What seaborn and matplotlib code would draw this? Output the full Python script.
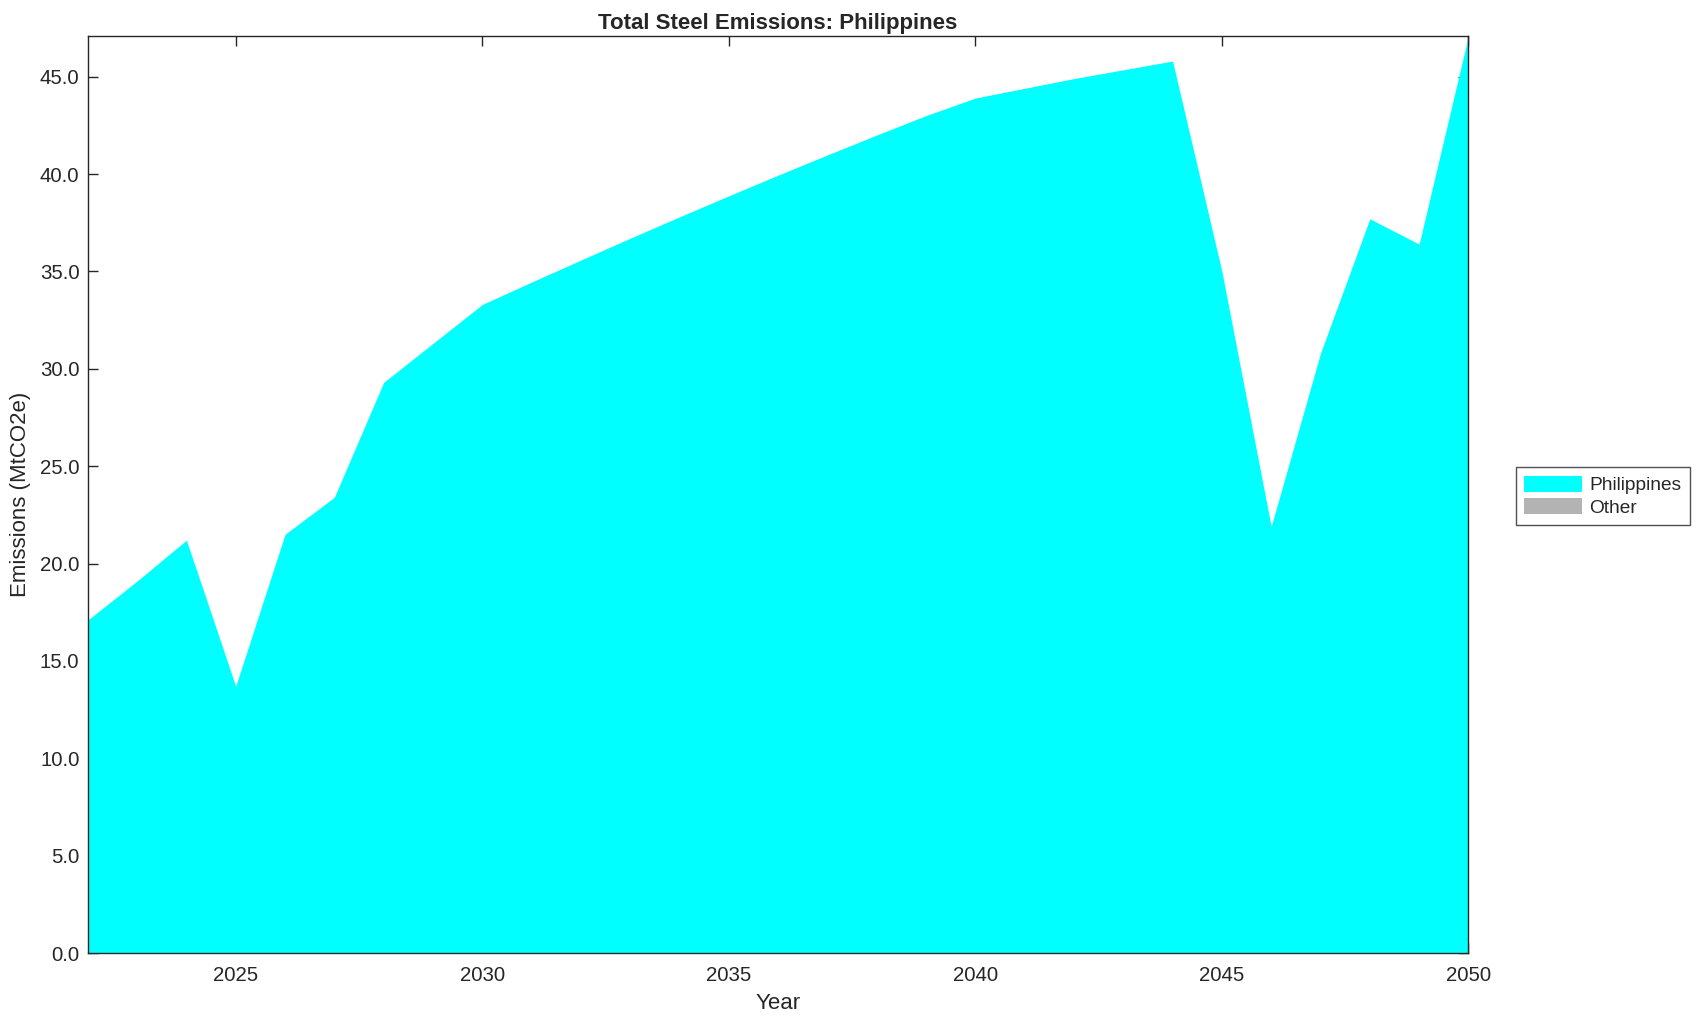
import numpy as np
import pandas as pd
import matplotlib
matplotlib.use("Agg")
import matplotlib.pyplot as plt
import seaborn as sns

# Data
years = list(range(2022, 2051))
philippines = [17.1, 19.1, 21.2, 13.7, 21.5, 23.4, 29.3, 31.3, 33.3, 34.45,
               35.58, 36.7, 37.8, 38.88, 39.94, 40.98, 42.0, 43.0, 43.9, 44.4,
               44.9, 45.35, 45.8, 35.0, 21.9, 30.8, 37.7, 36.4, 47.1]
other = [0.0] * len(years)

series_names = ["Philippines", "Other"]
series_colors = ["#00ffff", "#b3b3b3"]

df = pd.DataFrame({"Year": years, "Philippines": philippines, "Other": other})

sns.set_theme(style="ticks")
plt.rcParams["font.family"] = ["Liberation Sans", "DejaVu Sans"]

fig = plt.figure(figsize=(16.98, 10.21), dpi=100)
ax = fig.add_axes([0.0517, 0.0666, 0.8131, 0.8984])

ax.stackplot(df["Year"], df["Philippines"], df["Other"],
             labels=series_names, colors=series_colors, linewidth=0)

ax.set_xlim(df["Year"].min(), df["Year"].max())
ax.set_ylim(0, max(df["Philippines"] + df["Other"]))
ax.set_xticks(range(2025, 2051, 5))
ax.set_yticks(np.arange(0, 46, 5))
ax.yaxis.set_major_formatter(matplotlib.ticker.FormatStrFormatter("%.1f"))

ax.tick_params(direction="in", length=7, width=1, top=True, right=True,
               labelsize=14.7, colors="#262626", pad=6)
ax.tick_params(axis="x", pad=9)
for sp in ax.spines.values():
    sp.set_linewidth(1.0)
    sp.set_color("#262626")
    sp.set_zorder(5)

ax.set_title("Total Steel Emissions: Philippines", fontsize=16, fontweight="bold", pad=5)
ax.set_xlabel("Year", fontsize=16, labelpad=6)
ax.set_ylabel("Emissions (MtCO2e)", fontsize=16, labelpad=6)

handles, labels = ax.get_legend_handles_labels()
leg = fig.legend(handles, labels, loc="center left", bbox_to_anchor=(0.887, 0.514),
                 fontsize=13.8, frameon=True, fancybox=False, borderpad=0.45,
                 handlelength=3.0, handleheight=0.9, handletextpad=0.4,
                 labelspacing=0.2)
leg.get_frame().set_edgecolor("#262626")
leg.get_frame().set_linewidth(1.0)

fig.savefig("out.png", dpi=100)
